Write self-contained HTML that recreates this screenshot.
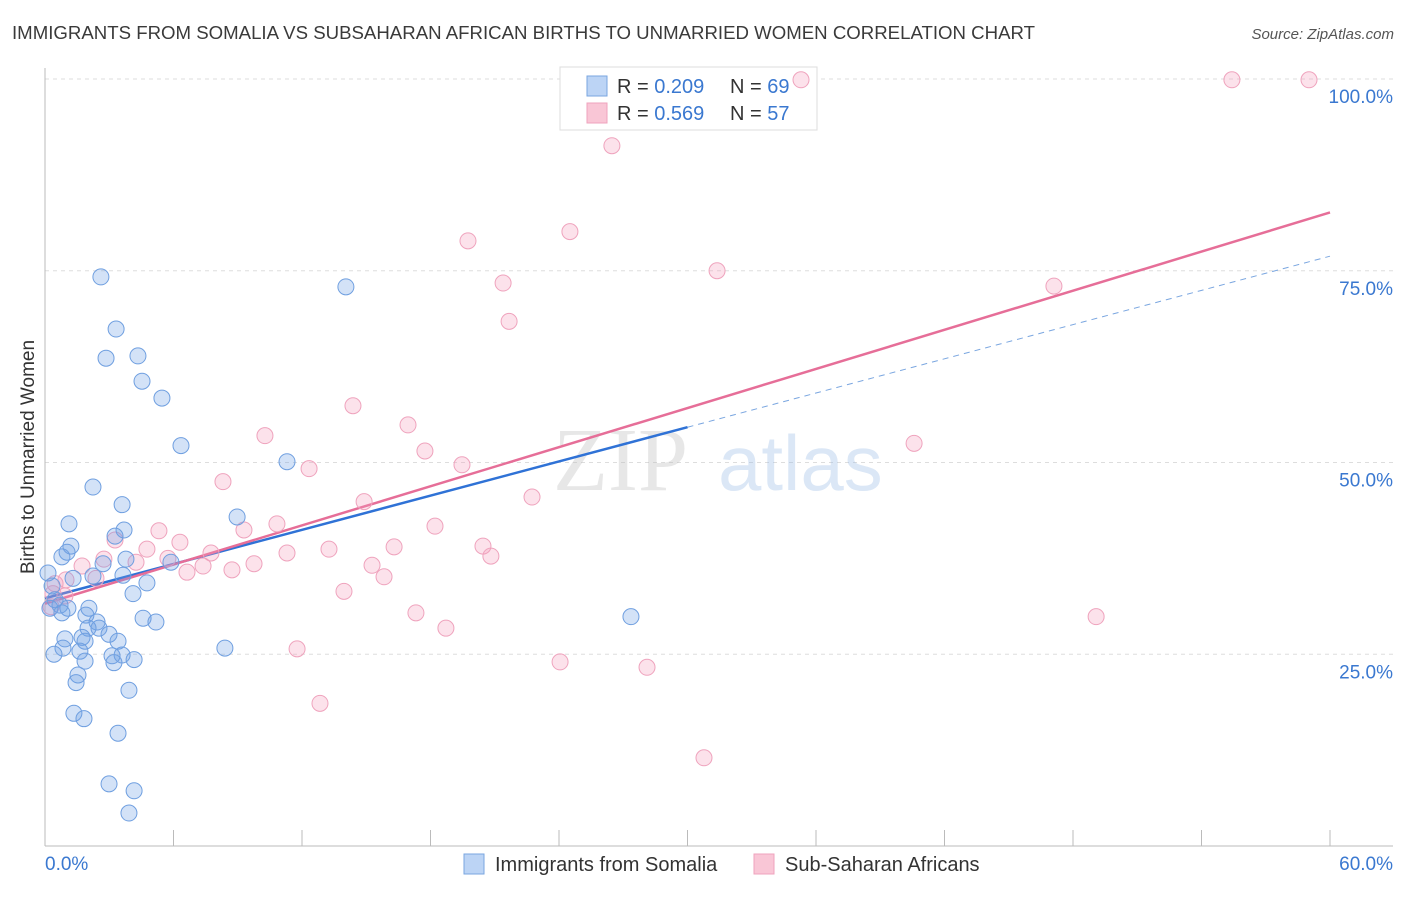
<!DOCTYPE html>
<html><head><meta charset="utf-8"><style>
body{margin:0;background:#fff;font-family:"Liberation Sans",sans-serif;}
</style></head><body>
<svg id="chart" width="1406" height="892" xmlns="http://www.w3.org/2000/svg" font-family="Liberation Sans, sans-serif">
<text x="12" y="39" font-size="18.6" fill="#3a3a3a" textLength="1023" lengthAdjust="spacingAndGlyphs">IMMIGRANTS FROM SOMALIA VS SUBSAHARAN AFRICAN BIRTHS TO UNMARRIED WOMEN CORRELATION CHART</text>
<text x="1394" y="39" font-size="15" fill="#555" text-anchor="end" font-style="italic">Source: ZipAtlas.com</text>
<text transform="translate(34,457) rotate(-90)" font-size="19" fill="#333" text-anchor="middle">Births to Unmarried Women</text>
<g id="grid"></g>
<g opacity="0.35">
<text x="553" y="490" font-size="90" fill="#bbb" font-family="Liberation Serif, serif">ZIP</text>
<text x="718" y="490" font-size="78" fill="#9bbce6">atlas</text>
</g>
<g>
<rect x="560" y="67" width="257" height="63" fill="#fff" stroke="#ddd"/>
<rect x="587" y="76" width="20" height="20" fill="#bcd4f5" stroke="#7aa6e0"/>
<rect x="587" y="103" width="20" height="20" fill="#f9c6d6" stroke="#efa3bd"/>
<text x="617" y="93" font-size="20" fill="#333">R = <tspan fill="#3a78d0">0.209</tspan></text>
<text x="730" y="93" font-size="20" fill="#333">N = <tspan fill="#3a78d0">69</tspan></text>
<text x="617" y="120" font-size="20" fill="#333">R = <tspan fill="#3a78d0">0.569</tspan></text>
<text x="730" y="120" font-size="20" fill="#333">N = <tspan fill="#3a78d0">57</tspan></text>
</g>
<g id="lines"></g>
<g id="points"></g>
<g>
<rect x="464" y="854" width="20" height="20" fill="#bcd4f5" stroke="#7aa6e0"/>
<text x="495" y="871" font-size="20" fill="#333">Immigrants from Somalia</text>
<rect x="754" y="854" width="20" height="20" fill="#f9c6d6" stroke="#efa3bd"/>
<text x="785" y="871" font-size="20" fill="#333">Sub-Saharan Africans</text>
</g>
</svg>
<script>
const yTicks=[25,50,75,100];
const yTickLabels=["25.0%","50.0%","75.0%","100.0%"];
const xTicks=[0,6,12,18,24,30,36,42,48,54,60];
const blueX=[2.61,3.32,2.85,4.34,4.53,5.46,6.35,14.05,11.3,2.24,3.6,1.12,3.69,8.97,3.27,1.21,1.03,0.79,2.71,3.78,2.24,3.64,1.31,4.76,5.88,0.14,0.33,4.11,0.47,0.7,0.23,1.07,2.05,0.79,1.91,4.58,5.18,2.43,2.01,2.52,2.99,1.73,0.93,1.87,3.41,0.84,1.63,0.42,8.4,3.13,3.6,4.16,1.87,3.22,1.54,1.45,3.92,1.35,1.82,3.41,2.99,4.16,3.92,27.36];
const blueY=[74.2,67.4,63.6,63.9,60.6,58.4,52.2,72.9,50.1,46.8,44.5,42,41.2,42.9,40.4,39.1,38.3,37.7,36.8,37.4,35.2,35.3,34.9,34.3,37,35.6,33.9,32.9,32.1,31.4,31,31,31,30.4,30.1,29.7,29.2,29.2,28.4,28.4,27.6,27.2,27,26.7,26.7,25.8,25.4,25,25.8,24.8,24.9,24.3,24.1,23.9,22.3,21.3,20.3,17.3,16.6,14.7,8.1,7.2,4.3,29.9];
const pinkX=[55.42,59.02,35.3,26.47,24.51,19.75,31.38,21.39,47.11,21.67,14.38,10.27,16.95,40.58,17.74,19.47,12.33,8.31,22.74,14.9,18.21,10.83,5.32,9.29,6.3,3.27,13.26,16.3,20.45,20.82,4.76,7.75,11.3,5.74,2.75,4.25,9.76,15.27,7.38,8.73,1.73,6.63,15.83,2.38,0.98,0.47,13.96,0.37,0.93,0.28,17.32,49.08,18.72,11.77,24.05,28.11,12.84,30.77];
const pinkY=[99.9,99.9,99.9,91.3,80.1,78.9,75,73.4,73,68.4,57.4,53.5,54.9,52.5,51.5,49.7,49.2,47.5,45.5,44.9,41.7,42,41.1,41.2,39.6,39.9,38.7,39,39.1,37.8,38.7,38.2,38.2,37.5,37.4,37,36.8,36.6,36.5,36,36.5,35.7,35.1,34.9,34.7,34.2,33.2,32.9,32.6,31.2,30.4,29.9,28.4,25.7,24,23.3,18.6,11.5];
const blueFit=[32.3,76.9];
const pinkFit=[31.6,82.6];
const X=v=>45+v/60*1285, Y=v=>846-v/100*767;
const NS="http://www.w3.org/2000/svg";
function mk(tag,attrs,parent){const e=document.createElementNS(NS,tag);for(const k in attrs)e.setAttribute(k,attrs[k]);parent.appendChild(e);return e;}
const grid=document.getElementById('grid');
yTicks.forEach((t,i)=>{
 const l=mk('line',{x1:45,x2:1393,y1:Y(t),y2:Y(t),stroke:'#ddd','stroke-dasharray':'4,4'},grid);
 
 
 const tx=mk('text',{x:1393,y:Y(t)+24,'font-size':19,fill:'#3a78d0','text-anchor':'end'},grid);
 tx.textContent=yTickLabels[i];
 
 
});
let a=mk('line',{x1:45,x2:45,y1:68,y2:846,stroke:'#bbb'},grid);


a=mk('line',{x1:45,x2:1393,y1:846,y2:846,stroke:'#bbb'},grid);


xTicks.forEach(t=>{const k=mk('line',{x1:X(t),x2:X(t),y1:830,y2:846,stroke:'#bbb'},grid);
 
 });
let t0=mk('text',{x:45,y:870,'font-size':19,fill:'#3a78d0'},grid);t0.textContent='0.0%';


let t1=mk('text',{x:1393,y:870,'font-size':19,fill:'#3a78d0','text-anchor':'end'},grid);t1.textContent='60.0%';


const pts=document.getElementById('points');
pinkX.forEach((x,i)=>{const c=mk('circle',{cx:X(x),cy:Y(pinkY[i]),r:8,fill:'rgba(244,160,190,0.3)',stroke:'#efa3bd','stroke-width':1},pts);
 
 });
blueX.forEach((x,i)=>{const c=mk('circle',{cx:X(x),cy:Y(blueY[i]),r:8,fill:'rgba(110,160,230,0.3)',stroke:'#6f9fe0','stroke-width':1},pts);
 
 });
const ln=document.getElementById('lines');
const bAt=v=>blueFit[0]+(blueFit[1]-blueFit[0])*v/60;
let l=mk('line',{x1:X(0),y1:Y(blueFit[0]),x2:X(30),y2:Y(bAt(30)),stroke:'#2f72d6','stroke-width':2.5},ln);


l=mk('line',{x1:X(30),y1:Y(bAt(30)),x2:X(60),y2:Y(blueFit[1]),stroke:'#7aa6e0','stroke-width':1,'stroke-dasharray':'6,5'},ln);


l=mk('line',{x1:X(0),y1:Y(pinkFit[0]),x2:X(60),y2:Y(pinkFit[1]),stroke:'#e66e98','stroke-width':2.5},ln);


</script>
</body></html>
